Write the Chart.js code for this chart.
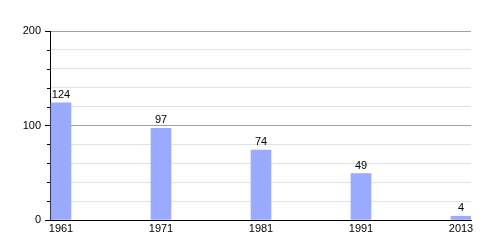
<!DOCTYPE html>
<html>
<head>
<meta charset="utf-8">
<script src="https://cdn.jsdelivr.net/npm/chart.js@4/dist/chart.umd.min.js"></script>
<style>
  html, body { margin: 0; padding: 0; background: #fff; }
  #wrap { width: 500px; height: 250px; }
</style>
</head>
<body>
<div id="wrap"><canvas id="chart"></canvas></div>
<script>
const years = ["1961", "1971", "1981", "1991", "2013"];
const values = [124, 97, 74, 49, 4];
const yMajorTicks = [0, 100, 200];

const barColor = "#99aaff";

// value labels above the bars + short minor ticks on the y axis
const extraPlugin = {
  id: "extras",
  afterDatasetsDraw(chart) {
    const ctx = chart.ctx;
    const meta = chart.getDatasetMeta(0);
    ctx.save();
    ctx.font = "11px 'Liberation Sans', Arial, sans-serif";
    ctx.fillStyle = "#000";
    ctx.textAlign = "center";
    ctx.textBaseline = "alphabetic";
    meta.data.forEach((bar, i) => {
      ctx.fillText(values[i], bar.x, bar.y - 5);
    });
    const yScale = chart.scales.y;
    const left = chart.chartArea.left;
    ctx.strokeStyle = "#000";
    ctx.lineWidth = 1;
    yScale.ticks.forEach(t => {
      if (yMajorTicks.includes(t.value)) return;
      const py = Math.round(yScale.getPixelForValue(t.value)) + 0.5;
      ctx.beginPath();
      ctx.moveTo(left - 3, py);
      ctx.lineTo(left, py);
      ctx.stroke();
    });
    ctx.restore();
  }
};

new Chart(document.getElementById("chart"), {
  type: "bar",
  data: {
    datasets: [{
      data: values.map((v, i) => ({ x: i, y: v })),
      backgroundColor: barColor,
      borderWidth: 0,
      barThickness: 20
    }]
  },
  plugins: [extraPlugin],
  options: {
    responsive: true,
    maintainAspectRatio: false,
    animation: false,
    devicePixelRatio: 1,
    layout: {
      padding: { top: 31, right: 29, left: 0, bottom: 0 }
    },
    plugins: {
      legend: { display: false },
      tooltip: { enabled: false }
    },
    scales: {
      x: {
        type: "linear",
        offset: false,
        min: -0.11,
        max: 4.1,
        afterBuildTicks: (scale) => {
          scale.ticks = years.map((_, i) => ({ value: i }));
        },
        afterFit: (scale) => { scale.height = 30; },
        grid: { display: false, drawTicks: false, offset: false },
        border: { color: "#000", width: 1 },
        ticks: {
          padding: 2,
          color: "#000",
          font: { family: "'Liberation Sans', Arial, sans-serif", size: 11 },
          callback: (v) => years[v]
        }
      },
      y: {
        min: 0,
        max: 200,
        afterFit: (scale) => { scale.width = 50; },
        grid: {
          tickLength: 5,
          color: (c) => {
            if (c.tick.value === 0) return "rgba(0,0,0,0)";
            return yMajorTicks.includes(c.tick.value) ? "#a0a0a0" : "#e2e2e2";
          },
          tickColor: (c) => yMajorTicks.includes(c.tick.value) ? "#000" : "rgba(0,0,0,0)"
        },
        border: { color: "#000", width: 1 },
        ticks: {
          stepSize: 20,
          padding: 4,
          color: "#000",
          font: { family: "'Liberation Sans', Arial, sans-serif", size: 11 },
          callback: (v) => yMajorTicks.includes(v) ? String(v) : ""
        }
      }
    }
  }
});
</script>
</body>
</html>
